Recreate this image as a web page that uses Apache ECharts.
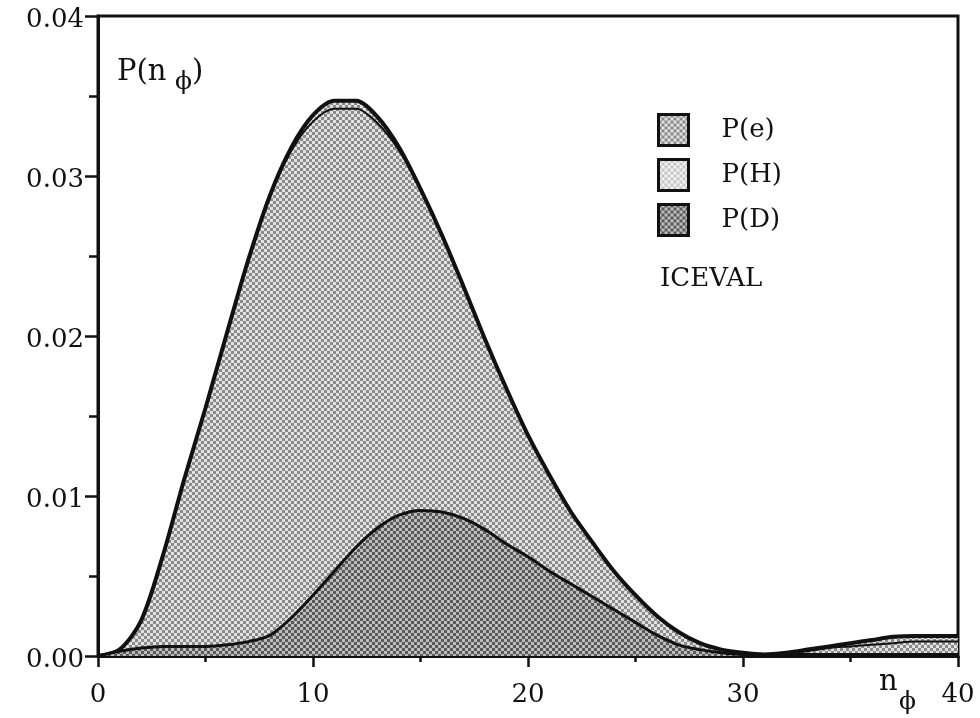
<!DOCTYPE html>
<html>
<head>
<meta charset="utf-8">
<script src="https://cdn.jsdelivr.net/npm/echarts@6/dist/echarts.min.js"></script>
<style>
  html, body { margin: 0; padding: 0; background: #fff; }
  #chart { width: 980px; height: 718px; }
</style>
</head>
<body>
<div id="chart"></div>
<script>
// n_phi values
const nValues = [0, 1, 2, 3, 4, 5, 6, 7, 8, 9, 10, 11, 12, 13, 14, 15, 16, 17, 18, 19, 20,
  21, 22, 23, 24, 25, 26, 27, 28, 29, 30, 31, 32, 33, 34, 35, 36, 37, 38, 39, 40];

// P(e)
const pE = [0, 0.0004, 0.0022, 0.0062, 0.0110, 0.0155, 0.0202, 0.0248, 0.0288, 0.0318, 0.0338,
  0.0347, 0.0347, 0.0337, 0.0318, 0.0292, 0.0263, 0.0231, 0.0198, 0.0167, 0.0138,
  0.0113, 0.0090, 0.0071, 0.0053, 0.0038, 0.0025, 0.0015, 0.0008, 0.0004, 0.0002,
  0.0001, 0.0002, 0.0004, 0.0006, 0.0008, 0.0010, 0.0012, 0.00125, 0.00125, 0.00125];

// P(H), almost on top of P(e)
const pH = [0, 0.0004, 0.0022, 0.0062, 0.0110, 0.0155, 0.0202, 0.0248, 0.0288, 0.0316, 0.0334,
  0.0342, 0.0342, 0.0333, 0.0316, 0.0292, 0.0263, 0.0231, 0.0198, 0.0167, 0.0138,
  0.0113, 0.0090, 0.0071, 0.0053, 0.0038, 0.0025, 0.0015, 0.0008, 0.0004, 0.0002,
  0.0001, 0.0002, 0.0003, 0.0005, 0.0006, 0.0007, 0.0008, 0.0009, 0.0009, 0.0009];

// P(D), the lower hump
const pD = [0, 0.0003, 0.0005, 0.0006, 0.0006, 0.0006, 0.0007, 0.0009, 0.0013, 0.0024, 0.0038,
  0.0053, 0.0068, 0.0080, 0.0088, 0.0091, 0.0090, 0.0086, 0.0079, 0.0070, 0.0062,
  0.0053, 0.0045, 0.0037, 0.0029, 0.0021, 0.0013, 0.0007, 0.0004, 0.0002, 0.0001,
  0.0001, 0.0001, 0.0001, 0.0001, 0.0001, 0.0001, 0.0001, 0.0001, 0.0001, 0.0001];

const seriesNames = ["P(e)", "P(H)", "P(D)"];
const yTickLabels = ["0.00", "0.01", "0.02", "0.03", "0.04"];
const xTickLabels = ["0", "10", "20", "30", "40"];

const ink = "#111";
const serif = "DejaVu Serif, Liberation Serif, serif";

// halftone like checker fills
function checker(bg, dot) {
  const c = document.createElement("canvas");
  c.width = 6;
  c.height = 6;
  const ctx = c.getContext("2d");
  ctx.fillStyle = bg;
  ctx.fillRect(0, 0, 6, 6);
  ctx.fillStyle = dot;
  ctx.fillRect(0, 0, 3, 3);
  ctx.fillRect(3, 3, 3, 3);
  return { image: c, repeat: "repeat" };
}

const patE = checker("#e2e2e2", "#8a8a8a");
const patH = checker("#f4f4f4", "#c4c4c4");
const patD = checker("#bdbdbd", "#5a5a5a");

function pairs(values) {
  return values.map(function (v, i) {
    return [nValues[i], v];
  });
}

const chart = echarts.init(document.getElementById("chart"));

chart.setOption({
  animation: false,
  backgroundColor: "#fff",
  grid: {
    left: 98,
    right: 22,
    top: 16,
    bottom: 62,
    show: true,
    borderColor: ink,
    borderWidth: 3,
  },
  legend: {
    orient: "vertical",
    left: 652,
    top: 108,
    icon: "rect",
    itemWidth: 30,
    itemHeight: 31,
    itemGap: 11,
    selectedMode: false,
    textStyle: {
      fontFamily: serif,
      fontSize: 26,
      color: ink,
      padding: [0, 0, 0, 28],
    },
    data: [
      { name: seriesNames[0], itemStyle: { color: patE, borderColor: ink, borderWidth: 3 } },
      { name: seriesNames[1], itemStyle: { color: patH, borderColor: ink, borderWidth: 3 } },
      { name: seriesNames[2], itemStyle: { color: patD, borderColor: ink, borderWidth: 3 } },
    ],
  },
  xAxis: {
    type: "value",
    min: 0,
    max: 40,
    interval: 10,
    axisLine: { show: true, lineStyle: { color: ink, width: 3 } },
    axisTick: { show: true, length: 11, lineStyle: { color: ink, width: 2.5 } },
    minorTick: { show: true, splitNumber: 2, length: 6, lineStyle: { color: ink, width: 2.5 } },
    splitLine: { show: false },
    axisLabel: {
      margin: 26,
      fontFamily: serif,
      fontSize: 26,
      color: ink,
      formatter: function (v) {
        return xTickLabels[v / 10];
      },
    },
  },
  yAxis: {
    type: "value",
    min: 0,
    max: 0.04,
    interval: 0.01,
    axisLine: { show: true, lineStyle: { color: ink, width: 3 } },
    axisTick: { show: true, length: 13, lineStyle: { color: ink, width: 2.5 } },
    minorTick: { show: true, splitNumber: 2, length: 9, lineStyle: { color: ink, width: 2.5 } },
    splitLine: { show: false },
    axisLabel: {
      margin: 14,
      fontFamily: serif,
      fontSize: 26,
      color: ink,
      verticalAlign: "top",
      lineHeight: 8,
      formatter: function (v) {
        return yTickLabels[Math.round(v * 100)];
      },
    },
  },
  graphic: [
    { type: "text", left: 117, top: 58, style: { text: "P(n", font: "29px " + serif, fill: ink } },
    { type: "text", left: 175, top: 70, style: { text: "ϕ", font: "25px " + serif, fill: ink } },
    { type: "text", left: 192, top: 58, style: { text: ")", font: "29px " + serif, fill: ink } },
    { type: "text", left: 660, top: 266, style: { text: "ICEVAL", font: "26px " + serif, fill: ink } },
    { type: "text", left: 879, top: 668, style: { text: "n", font: "29px " + serif, fill: ink } },
    { type: "text", left: 899, top: 690, style: { text: "ϕ", font: "25px " + serif, fill: ink } },
  ],
  series: [
    {
      name: seriesNames[0],
      type: "line",
      data: pairs(pE),
      smooth: 0.3,
      symbol: "none",
      z: 2,
      itemStyle: { color: ink },
      lineStyle: { color: ink, width: 4 },
      areaStyle: { color: patE, opacity: 1 },
    },
    {
      name: seriesNames[1],
      type: "line",
      data: pairs(pH),
      smooth: 0.3,
      symbol: "none",
      z: 3,
      itemStyle: { color: ink },
      lineStyle: { color: ink, width: 2 },
    },
    {
      name: seriesNames[2],
      type: "line",
      data: pairs(pD),
      smooth: 0.3,
      symbol: "none",
      z: 4,
      itemStyle: { color: ink },
      lineStyle: { color: ink, width: 3 },
      areaStyle: { color: patD, opacity: 1 },
    },
  ],
});
</script>
</body>
</html>
